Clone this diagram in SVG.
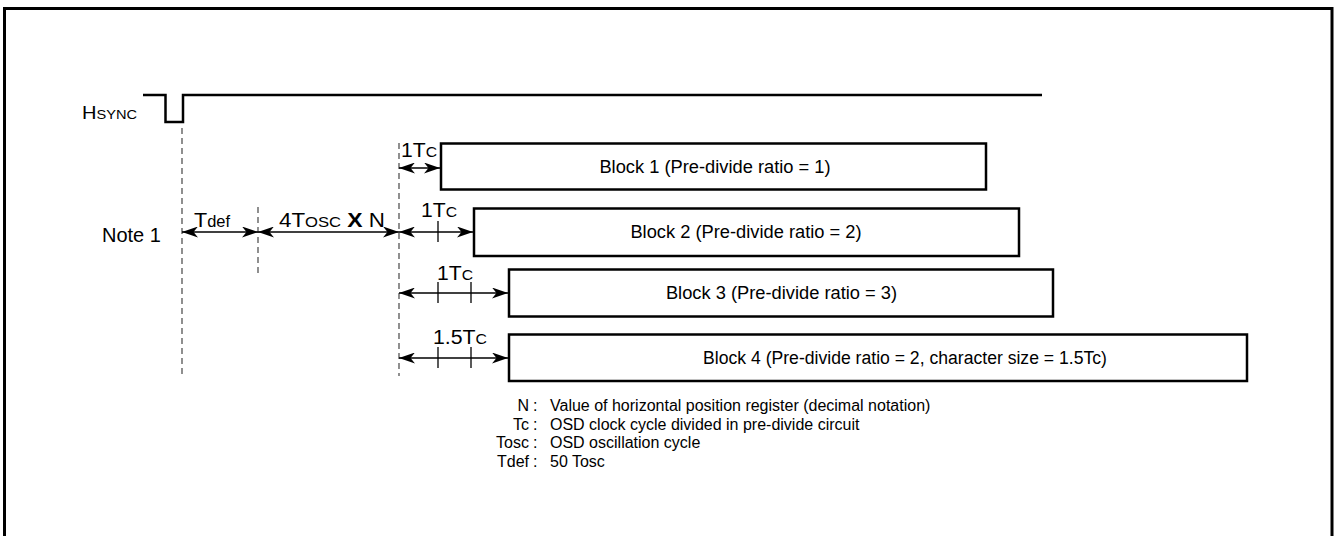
<svg xmlns="http://www.w3.org/2000/svg" width="1335" height="536" viewBox="0 0 1335 536">
<style>
text{font-family:"Liberation Sans",Arial,sans-serif;fill:#000}
.blk{fill:#fff;stroke:#000;stroke-width:2.5}
.dash{stroke:#555;stroke-width:1.3;stroke-dasharray:6 4;fill:none}
.arr{stroke:#000;stroke-width:1.3;fill:none;marker-start:url(#ah);marker-end:url(#ah)}
.tick{stroke:#000;stroke-width:1.3}
.bt{font-size:18.3px;text-anchor:middle}
.fn{font-size:16px}
.lbl{font-size:16px;text-anchor:end}
</style>
<defs>
<marker id="ah" viewBox="0 0 16 11" refX="16" refY="5.5" markerWidth="16" markerHeight="11" markerUnits="userSpaceOnUse" orient="auto-start-reverse">
<path d="M0,0 L16,5.5 L0,11 L4.5,5.5 Z" fill="#000"/>
</marker>
</defs>
<rect x="4.5" y="8.5" width="1327.5" height="540" fill="#fff" stroke="#000" stroke-width="3"/>

<g id="hsync">
<path d="M143,95 H165.5 V122 H183 V95 H1042" fill="none" stroke="#000" stroke-width="2.5"/>
<text x="82" y="119" textLength="55" lengthAdjust="spacingAndGlyphs"><tspan font-size="18.5">H</tspan><tspan font-size="13.5">SYNC</tspan></text>
</g>

<g id="guides">
<line class="dash" x1="182" y1="128" x2="182" y2="378"/>
<line class="dash" x1="258" y1="207" x2="258" y2="273"/>
<line class="dash" x1="399" y1="143" x2="399" y2="376"/>
</g>

<text id="note1" x="102" y="242" font-size="20">Note 1</text>

<g id="block1">
<rect class="blk" x="441" y="143.5" width="545" height="46"/>
<text class="bt" x="715" y="173">Block 1 (Pre-divide ratio = 1)</text>
</g>
<g id="block2">
<rect class="blk" x="474" y="208.5" width="545" height="47.5"/>
<text class="bt" x="746" y="238">Block 2 (Pre-divide ratio = 2)</text>
</g>
<g id="block3">
<rect class="blk" x="509" y="269.5" width="544" height="47"/>
<text class="bt" x="781.5" y="299">Block 3 (Pre-divide ratio = 3)</text>
</g>
<g id="block4">
<rect class="blk" x="509" y="334.5" width="738" height="46.5"/>
<text class="bt" x="905" y="364" style="font-size:17.6px">Block 4 (Pre-divide ratio = 2, character size = 1.5Tc)</text>
</g>

<g id="connectors">
<line class="arr" x1="399" y1="168" x2="440" y2="168"/>
<line class="arr" x1="182" y1="232" x2="258" y2="232"/>
<line class="arr" x1="258" y1="232" x2="399" y2="232"/>
<line class="arr" x1="399" y1="232" x2="473" y2="232"/>
<line class="tick" x1="438" y1="221" x2="438" y2="242"/>
<line class="arr" x1="399" y1="293" x2="508" y2="293"/>
<line class="tick" x1="438" y1="282" x2="438" y2="303"/>
<line class="tick" x1="471" y1="282" x2="471" y2="303"/>
<line class="arr" x1="399" y1="358" x2="508" y2="358"/>
<line class="tick" x1="438" y1="347" x2="438" y2="368"/>
<line class="tick" x1="471" y1="347" x2="471" y2="368"/>
</g>

<g id="labels">
<text x="194" y="227" textLength="36" lengthAdjust="spacingAndGlyphs"><tspan font-size="21">T</tspan><tspan font-size="16">def</tspan></text>
<text x="279" y="227" textLength="106" lengthAdjust="spacingAndGlyphs"><tspan font-size="19.5">4T</tspan><tspan font-size="14.5">OSC</tspan><tspan font-size="19.5"> </tspan><tspan font-size="20" font-weight="bold">X</tspan><tspan font-size="19.5"> N</tspan></text>
<text x="401" y="157" textLength="36" lengthAdjust="spacingAndGlyphs"><tspan font-size="19.5">1T</tspan><tspan font-size="14.5">C</tspan></text>
<text x="421" y="217" textLength="36" lengthAdjust="spacingAndGlyphs"><tspan font-size="19.5">1T</tspan><tspan font-size="14.5">C</tspan></text>
<text x="437" y="280" textLength="36" lengthAdjust="spacingAndGlyphs"><tspan font-size="19.5">1T</tspan><tspan font-size="14.5">C</tspan></text>
<text x="433" y="344" textLength="54" lengthAdjust="spacingAndGlyphs"><tspan font-size="19.5">1.5T</tspan><tspan font-size="14.5">C</tspan></text>
</g>

<g id="legend">
<text class="lbl" x="529" y="411">N</text><text class="fn" x="533" y="411">:</text><text class="fn" x="550" y="411">Value of horizontal position register (decimal notation)</text>
<text class="lbl" x="529" y="429.5">Tc</text><text class="fn" x="533" y="429.5">:</text><text class="fn" x="550" y="429.5">OSD clock cycle divided in pre-divide circuit</text>
<text class="lbl" x="529" y="448">Tosc</text><text class="fn" x="533" y="448">:</text><text class="fn" x="550" y="448">OSD oscillation cycle</text>
<text class="lbl" x="529" y="466.5">Tdef</text><text class="fn" x="533" y="466.5">:</text><text class="fn" x="550" y="466.5">50 Tosc</text>
</g>
</svg>
